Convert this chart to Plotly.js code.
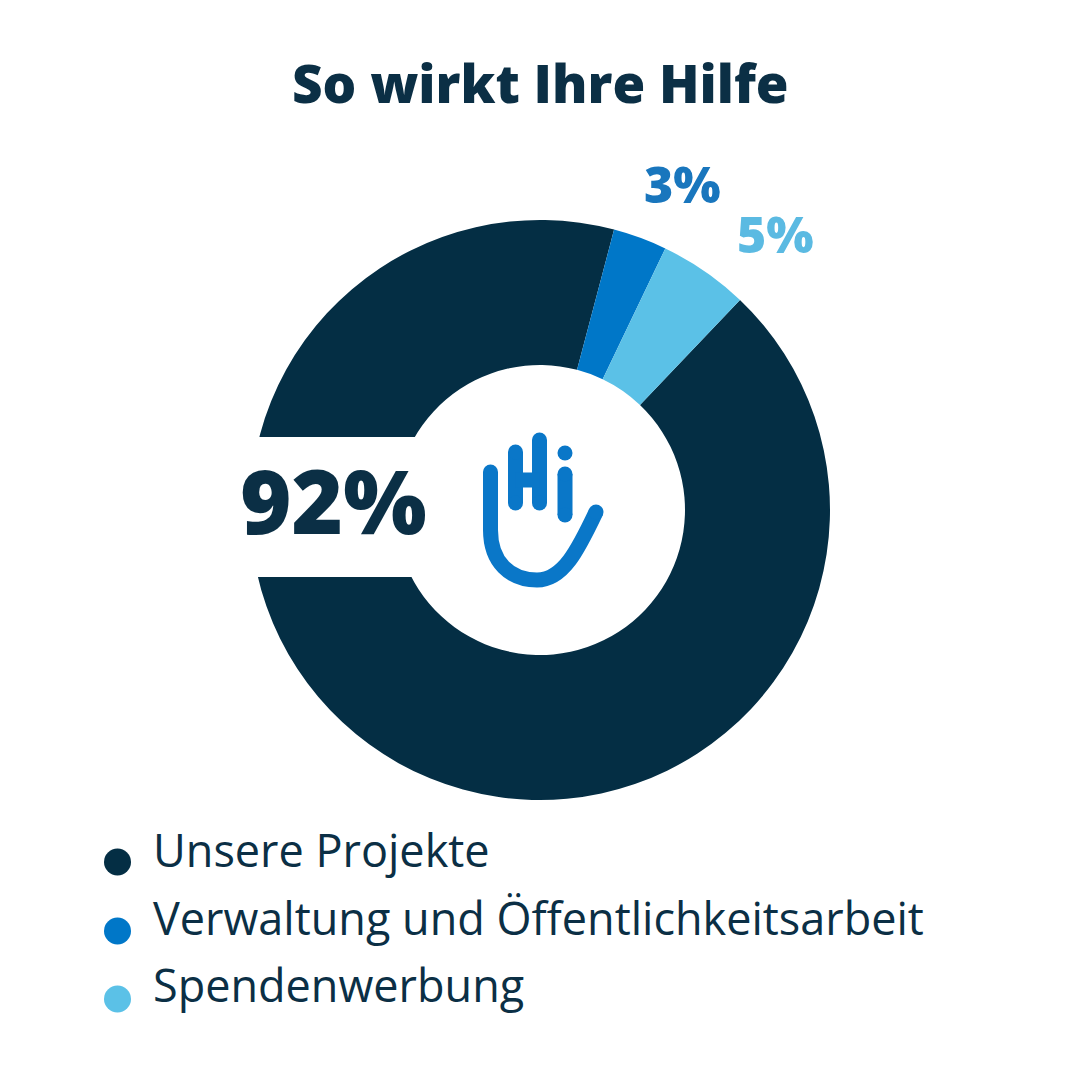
<!DOCTYPE html>
<html>
<head>
<meta charset="utf-8">
<script src="https://cdn.plot.ly/plotly-3.0.1.min.js"></script>
<style>html,body{margin:0;padding:0;background:#fff}#chart{width:1080px;height:1080px}</style>
</head>
<body>
<div id="chart"></div>
<script>
// ---- data ----
const categories = ["Unsere Projekte", "Verwaltung und Öffentlichkeitsarbeit", "Spendenwerbung"];
const shares = [92, 3, 5];
const shareLabels = ["92%", "3%", "5%"];
const sliceColors = ["#042e44", "#0077c8", "#5bc1e7"];
const labelColors = ["#0b2f45", "#1976bd", "#5bbae2"];
const chartTitle = "So wirkt Ihre Hilfe";

// ---- helpers: pixel -> paper ----
const W = 1080, H = 1080;
const px = x => x / W;
const py = y => 1 - y / H;
function pathFromPixels(cmds) {
  let out = [];
  let i = 0;
  while (i < cmds.length) {
    const c = cmds[i++];
    const n = c === "Q" ? 2 : (c === "C" ? 3 : 1);
    let seg = c;
    for (let k = 0; k < n; k++) {
      seg += " " + px(cmds[i++]).toFixed(5) + "," + py(cmds[i++]).toFixed(5);
    }
    out.push(seg);
  }
  return out.join(" ");
}

const font = "'Open Sans', Lato, sans-serif";
const textDark = "#0b2f45";
const logoBlue = "#0a77c8";

const pie = {
  type: "pie",
  labels: categories,
  values: shares,
  sort: false,
  direction: "clockwise",
  rotation: 43.6,
  hole: 0.5,
  marker: { colors: sliceColors, line: { width: 0 } },
  textinfo: "none",
  hoverinfo: "label+percent",
  showlegend: false,
  domain: { x: [px(250), px(830)], y: [py(800), py(220)] }
};

const shapes = [];
// white band cut into the ring for the big label
shapes.push({ type: "rect", xref: "paper", yref: "paper", x0: px(235), x1: px(420), y0: py(577), y1: py(437),
  fillcolor: "#ffffff", line: { width: 0 }, layer: "above" });

// logo (Hi hand) - stroked paths with round end caps
const sw = 15;
const logoPaths = [
  { p: ["M", 490.5, 472, "L", 490.5, 530, "C", 490.5, 562, 510, 580, 537, 580, "C", 563, 580, 578, 550, 596, 512], ends: [[490.5, 472], [596, 512]] },
  { p: ["M", 515.5, 452, "L", 515.5, 503], ends: [[515.5, 452], [515.5, 503]] },
  { p: ["M", 539.5, 440, "L", 539.5, 503], ends: [[539.5, 440], [539.5, 503]] },
  { p: ["M", 515.5, 480, "L", 539.5, 480], ends: [] },
  { p: ["M", 565, 474, "L", 565, 515], ends: [[565, 474], [565, 515]] }
];
logoPaths.forEach(o => {
  shapes.push({ type: "path", xref: "paper", yref: "paper", path: pathFromPixels(o.p),
    line: { color: logoBlue, width: sw }, layer: "above" });
  o.ends.forEach(e => shapes.push({ type: "circle", xref: "paper", yref: "paper",
    x0: px(e[0] - sw / 2), x1: px(e[0] + sw / 2), y0: py(e[1] + sw / 2), y1: py(e[1] - sw / 2),
    fillcolor: logoBlue, line: { width: 0 }, layer: "above" }));
});
shapes.push({ type: "circle", xref: "paper", yref: "paper", x0: px(557.5), x1: px(572.5), y0: py(460.5), y1: py(445.5),
  fillcolor: logoBlue, line: { width: 0 }, layer: "above" });

const annotations = [];
annotations.push({ xref: "paper", yref: "paper", x: px(540), y: py(82), text: chartTitle, showarrow: false,
  xanchor: "center", yanchor: "middle", font: { family: font, size: 53, weight: 800, color: textDark } });

// value labels
const labelPos = [[333, 500, 88], [682, 184, 50], [775, 234, 50]];
shareLabels.forEach((t, i) => annotations.push({ xref: "paper", yref: "paper", x: px(labelPos[i][0]), y: py(labelPos[i][1]),
  text: t, showarrow: false, xanchor: "center", yanchor: "middle",
  font: { family: font, size: labelPos[i][2], weight: 800, color: labelColors[i] } }));

// legend
const legendTextY = [849, 917, 984];
const legendDotY = [862, 931, 999];
categories.forEach((c, i) => {
  const cy = legendDotY[i];
  shapes.push({ type: "circle", xref: "paper", yref: "paper", x0: px(104), x1: px(131), y0: py(cy + 13.5), y1: py(cy - 13.5),
    fillcolor: sliceColors[i], line: { width: 0 }, layer: "above" });
  annotations.push({ xref: "paper", yref: "paper", x: px(151), y: py(legendTextY[i]), text: c, showarrow: false,
    xanchor: "left", yanchor: "middle", font: { family: font, size: 45, color: textDark } });
});

const layout = {
  width: W, height: H,
  margin: { l: 0, r: 0, t: 0, b: 0 },
  paper_bgcolor: "#ffffff",
  showlegend: false,
  shapes: shapes,
  annotations: annotations
};

Plotly.newPlot("chart", [pie], layout, { displayModeBar: false, staticPlot: true });
</script>
</body>
</html>
